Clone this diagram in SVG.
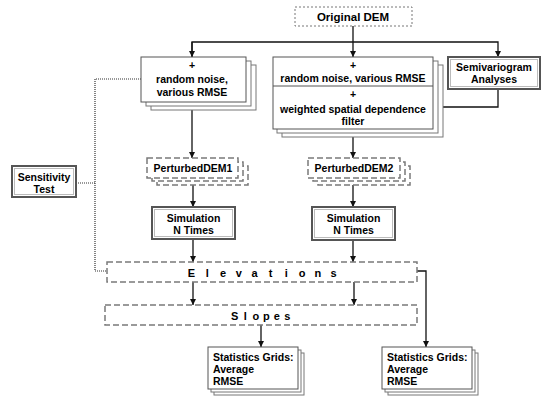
<svg xmlns="http://www.w3.org/2000/svg" width="544" height="396" viewBox="0 0 544 396">
<defs>
<style>
.t{font-family:"Liberation Sans",Arial,Helvetica,sans-serif;font-weight:bold;font-size:10.5px;fill:#000}
.c{text-anchor:middle}
.box{fill:#fff;stroke:#555;stroke-width:1}
.sh{fill:#fff;stroke:#777;stroke-width:1}
.b3{fill:#fff;stroke:#555;stroke-width:2}
.b3i{fill:none;stroke:#bbb;stroke-width:1}
.dash{fill:#fff;stroke:#7a7a7a;stroke-width:1.5;stroke-dasharray:6 3}
.fine{fill:#fff;stroke:#777;stroke-width:1;stroke-dasharray:2 2}
.edge{stroke:#111;stroke-width:1.3;fill:none}
.dot{stroke:#333;stroke-width:1.2;stroke-dasharray:1 1;fill:none}
</style>
<marker id="ah" markerUnits="userSpaceOnUse" markerWidth="7" markerHeight="6" refX="6" refY="3" orient="auto">
<path d="M0,0 L6,3 L0,6 z" fill="#111"/>
</marker>
</defs>

<g id="connectors">
<path class="edge" d="M353,26 V57" marker-end="url(#ah)"/>
<path class="edge" d="M192,57 V42 H498 V57" marker-end="url(#ah)"/>
<path class="edge" d="M192,42 V57" marker-end="url(#ah)"/>
<path class="edge" d="M498,89 V107 H433" marker-end="url(#ah)"/>
<path class="edge" d="M192,102 V158" marker-end="url(#ah)"/>
<path class="edge" d="M353,137 V158" marker-end="url(#ah)"/>
<path class="edge" d="M193,185 V207" marker-end="url(#ah)"/>
<path class="edge" d="M353,185 V207" marker-end="url(#ah)"/>
<path class="edge" d="M193,239 V262" marker-end="url(#ah)"/>
<path class="edge" d="M353,240 V262" marker-end="url(#ah)"/>
<path class="edge" d="M193,282 V305" marker-end="url(#ah)"/>
<path class="edge" d="M354,282 V305" marker-end="url(#ah)"/>
<path class="edge" d="M417,271 H426 V347" marker-end="url(#ah)"/>
<path class="edge" d="M261,325 V347" marker-end="url(#ah)"/>
<path class="dot" d="M141,79 H95 V271 H107"/>
<path class="dot" d="M76,183 H95"/>
</g>

<g id="original-dem">
<rect class="fine" x="295" y="7" width="117" height="19"/>
<text class="t c" x="353" y="21" style="font-size:11.5px">Original DEM</text>
</g>

<g id="random-noise-1">
<rect class="sh" x="151" y="65" width="105" height="45"/>
<rect class="sh" x="146" y="61" width="105" height="45"/>
<rect class="box" x="141" y="57" width="105" height="45"/>
<text class="t c" x="192" y="69">+</text>
<text class="t c" x="192" y="83">random noise,</text>
<text class="t c" x="192" y="96">various RMSE</text>
</g>

<g id="random-noise-2">
<rect class="sh" x="282" y="65" width="161" height="72"/>
<rect class="sh" x="277" y="61" width="161" height="72"/>
<rect class="box" x="273" y="57" width="160" height="72"/>
<line x1="273" y1="86" x2="433" y2="86" stroke="#555" stroke-width="1"/>
<text class="t c" x="353" y="69">+</text>
<text class="t c" x="353" y="82">random noise, various RMSE</text>
<text class="t c" x="353" y="98">+</text>
<text class="t c" x="353" y="113">weighted spatial dependence</text>
<text class="t c" x="353" y="125">filter</text>
</g>

<g id="semivariogram">
<rect class="b3" x="448" y="57" width="92" height="32"/>
<rect class="b3i" x="450.5" y="59.5" width="87" height="27"/>
<text class="t c" x="494" y="71">Semivariogram</text>
<text class="t c" x="494" y="83">Analyses</text>
</g>

<g id="sensitivity-test">
<rect class="b3" x="12" y="166" width="64" height="31"/>
<rect class="b3i" x="14.5" y="168.5" width="59" height="26"/>
<text class="t c" x="44" y="181">Sensitivity</text>
<text class="t c" x="44" y="193">Test</text>
</g>

<g id="perturbed-dem1">
<rect class="dash" x="157" y="166" width="91" height="19"/>
<rect class="dash" x="152" y="162" width="91" height="19"/>
<rect class="dash" x="147" y="158" width="91" height="20"/>
<text class="t c" x="193" y="172">PerturbedDEM1</text>
</g>

<g id="perturbed-dem2">
<rect class="dash" x="318" y="166" width="92" height="19"/>
<rect class="dash" x="313" y="162" width="92" height="19"/>
<rect class="dash" x="308" y="158" width="92" height="20"/>
<text class="t c" x="354" y="172">PerturbedDEM2</text>
</g>

<g id="simulation-1">
<rect class="b3" x="152" y="207" width="83" height="32"/>
<rect class="b3i" x="154.5" y="209.5" width="78" height="27"/>
<text class="t c" x="193.5" y="222">Simulation</text>
<text class="t c" x="193.5" y="234">N Times</text>
</g>

<g id="simulation-2">
<rect class="b3" x="312" y="207" width="83" height="33"/>
<rect class="b3i" x="314.5" y="209.5" width="78" height="28"/>
<text class="t c" x="353.5" y="222">Simulation</text>
<text class="t c" x="353.5" y="234">N Times</text>
</g>

<g id="elevations">
<rect class="dash" x="107" y="262" width="310" height="20"/>
<text class="t" style="font-size:11px" x="187.8 195.1 205.8 208.9 220 226.1 235.8 241.9 251.6 257.7 268.7 272.4 284.8 287.9 298.7 305.4 314.5 321.2 330.6" y="277">E l e v a t i o n s</text>
</g>

<g id="slopes">
<rect class="dash" x="105" y="305" width="312" height="20"/>
<text class="t" style="font-size:11px" x="231.1 238.4 243.8 246.8 252.4 259.1 262.9 269.6 273.7 279.8 284.2" y="320">S l o p e s</text>
</g>

<g id="stats-1">
<rect class="sh" x="214" y="353" width="90" height="42"/>
<rect class="sh" x="211" y="350" width="90" height="42"/>
<rect class="box" x="208" y="347" width="90" height="42"/>
<text class="t" x="213" y="361">Statistics Grids:</text>
<text class="t" x="213" y="373">Average</text>
<text class="t" x="213" y="385">RMSE</text>
</g>

<g id="stats-2">
<rect class="sh" x="388" y="353" width="90" height="42"/>
<rect class="sh" x="385" y="350" width="90" height="42"/>
<rect class="box" x="382" y="347" width="90" height="42"/>
<text class="t" x="387" y="361">Statistics Grids:</text>
<text class="t" x="387" y="373">Average</text>
<text class="t" x="387" y="385">RMSE</text>
</g>
</svg>
